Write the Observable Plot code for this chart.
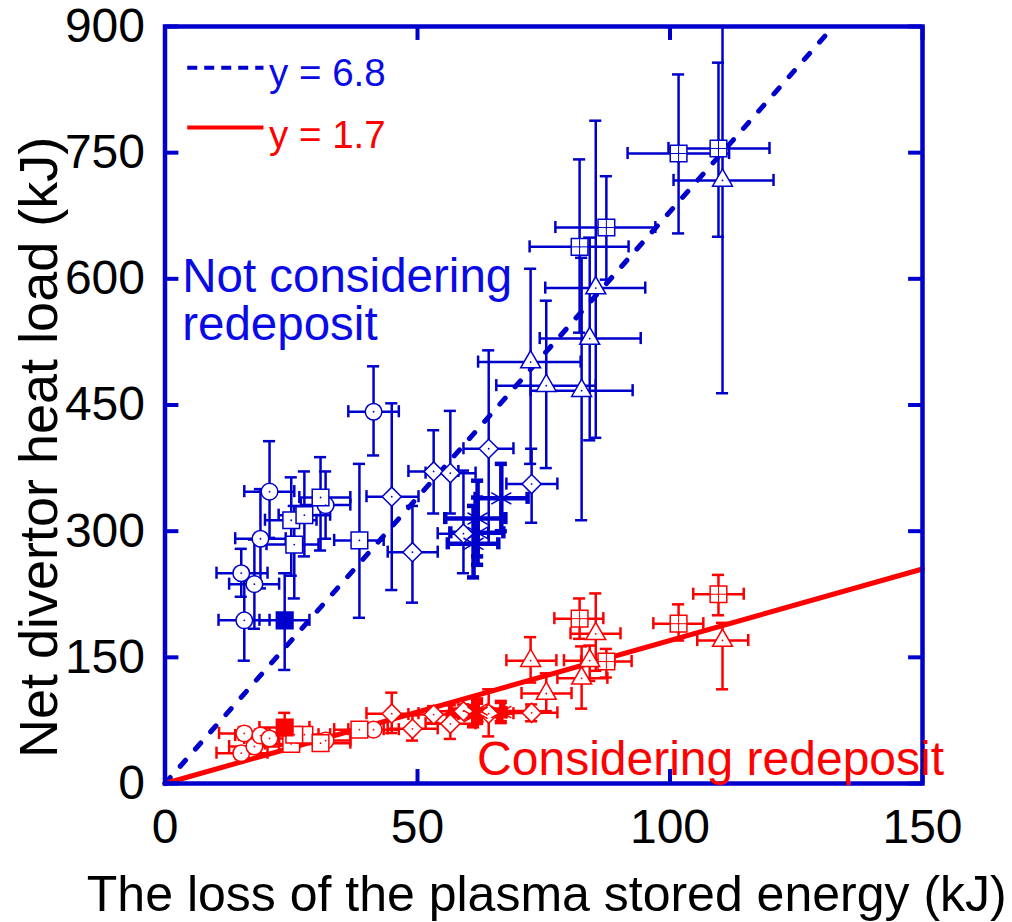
<!DOCTYPE html>
<html>
<head>
<meta charset="utf-8">
<script src="https://cdn.jsdelivr.net/npm/d3@7"></script>
<script src="https://cdn.jsdelivr.net/npm/@observablehq/plot@0.6"></script>
<style>
  html, body { margin: 0; padding: 0; background: #ffffff; }
  #chart svg { display: block; overflow: visible; }
</style>
</head>
<body>
<div id="chart"></div>
<script>
// ---------------- data ----------------
const shapes = [
  "circle","circle","circle","circle","circle","circle","circle",
  "square","square","square","square","square","filled",
  "diamond","diamond","diamond","diamond","diamond","diamond","diamond",
  "asterisk","asterisk","asterisk","asterisk",
  "triangle","triangle","triangle","triangle","triangle","triangle",
  "grid","grid","grid","grid"
];
// loss of the plasma stored energy (kJ) and its error range
const lossX   = [15.7,15.1,17.7,18.9,20.7,31.8,41.3, 25.0,27.6,30.8,25.6,38.5,23.7, 44.9,49.0,53.2,56.5,59.1,64.1,72.6, 66.6,61.9,61.1,61.9, 72.4,75.5,82.5,84.1,85.3,110.4, 82.1,87.4,101.7,109.6];
const lossXLo = [10.6,10.2,12.7,13.9,15.7,26.9,36.3, 19.8,22.5,26.6,20.1,33.5,18.7, 39.9,44.1,48.2,51.6,54.0,59.1,67.6, 61.5,55.5,56.0,56.5, 62.0,65.6,72.4,74.2,75.3,100.7, 72.2,77.3,91.6,99.7];
const lossXHi = [20.7,20.3,22.6,23.9,25.6,36.7,46.3, 30.0,32.7,36.7,30.4,43.3,28.6, 50.2,54.0,58.1,61.5,64.0,69.0,77.7, 71.8,67.4,66.0,67.0, 82.3,85.3,92.6,94.2,95.1,120.5, 91.8,97.1,111.7,119.7];
// net divertor heat load, not considering redeposit (kJ)
const heatNoRedep = [194,250,237,291,347,331,442, 313,319,340,284,289,194, 341,275,371,369,297,398,356, 339,315,285,298, 501,473,467,529,589,717, 638,661,749,755];
const noRedepLo   = [146,222,184,232,292,291,390, 247,270,277,220,197,135, 230,215,321,321,250,285,310, 300,270,245,260, 380,375,313,408,411,464, 536,599,654,650];
const noRedepHi   = [241,279,290,350,407,371,496, 364,371,388,330,380,250, 452,330,420,443,372,515,398, 380,360,330,340, 612,574,625,649,788,900, 742,722,843,857];
// net divertor heat load, considering redeposit (kJ)
const heatRedep = [59.5,36,44,57,53.5,51,64, 47,58,48,58,64,66.6, 83,65,82,71,86,83,84, 85,84,80,88, 146,107,125,146,178,170, 196,145,190,225];
const redepLo   = [52,29,36,50,46,44,57, 40,50,40,51,56,45, 60,51,72,53,78,56,74, 73,72,68,76, 120,86,89,122,134,112, 172,126,170,200];
const redepHi   = [67,43,52,64,61,58,71, 54,66,56,65,72,84, 108,81,92,93,94,112,94, 97,96,92,100, 174,131,163,164,226,191, 220,160,213,248];
const redepXLo  = [10.7,10.2,12.7,13.9,15.7,26.9,36.3, 19.8,22.5,26.6,20.1,33.5,18.7, 39.9,44.1,48.2,51.6,54.0,59.1,67.6, 61.5,56.5,56.0,56.5, 67.6,70.6,77.7,79.0,80.3,105.4, 77.1,82.4,96.7,104.6];
const redepXHi  = [20.7,20.3,22.6,23.9,25.6,36.7,46.3, 30.0,32.7,36.7,30.4,43.3,28.6, 50.2,54.0,58.1,61.5,64.0,69.0,77.7, 71.8,67.4,66.0,67.0, 77.5,80.5,87.6,89.0,90.2,115.5, 86.8,92.4,106.6,114.6];

// fitted lines y = slope * x
const fitSlopes = [6.8, 1.7];
const fitXEnd = [900 / 6.8, 150];
const fitLabels = ["y = 6.8", "y = 1.7"];

const xTicks = [0, 50, 100, 150];
const yTicks = [0, 150, 300, 450, 600, 750, 900];

const seriesLabels = ["Not considering\nredeposit", "Considering redeposit"];
const xTitle = "The loss of the plasma stored energy (kJ)";
const yTitle = "Net divertor heat load (kJ)";

// ---------------- styling ----------------
const BLUE = "#0000cc";
const BLUE_TEXT = "#0a0ae6";
const RED = "#ff0000";
const FONT = "'Liberation Sans', Arial, Helvetica, sans-serif";

const blueRows = lossX.map((x, i) => ({shape: shapes[i], x, y: heatNoRedep[i], ylo: noRedepLo[i], yhi: noRedepHi[i], xlo: lossXLo[i], xhi: lossXHi[i]}));
const redRows  = lossX.map((x, i) => ({shape: shapes[i], x, y: heatRedep[i], ylo: redepLo[i], yhi: redepHi[i], xlo: redepXLo[i], xhi: redepXHi[i]}));

const capX = 1.2;   // half cap width in x units
const capY = 7.2;   // half cap height in y units

function errorMarks(rows, color, sw) {
  return [
    Plot.ruleX(rows, {x: "x", y1: "ylo", y2: "yhi", stroke: color, strokeWidth: sw}),
    Plot.ruleY(rows, {y: "y", x1: "xlo", x2: "xhi", stroke: color, strokeWidth: sw}),
    Plot.ruleY(rows, {y: "ylo", x1: d => d.x - capX, x2: d => d.x + capX, stroke: color, strokeWidth: sw}),
    Plot.ruleY(rows, {y: "yhi", x1: d => d.x - capX, x2: d => d.x + capX, stroke: color, strokeWidth: sw}),
    Plot.ruleX(rows, {x: "xlo", y1: d => d.y - capY, y2: d => d.y + capY, stroke: color, strokeWidth: sw}),
    Plot.ruleX(rows, {x: "xhi", y1: d => d.y - capY, y2: d => d.y + capY, stroke: color, strokeWidth: sw})
  ];
}

function seriesMarks(rows, color) {
  const is = s => d => d.shape === s;
  const normal = rows.filter(d => d.shape !== "asterisk");
  const stars = rows.filter(is("asterisk"));
  const open = rows.filter(d => d.shape !== "asterisk" && d.shape !== "filled");
  const common = {x: "x", y: "y", stroke: color, strokeWidth: 1.5};
  return [
    ...errorMarks(normal, color, 2.5),
    ...errorMarks(stars, color, 4.5),
    Plot.dot(rows.filter(is("circle")), {...common, symbol: "circle", r: 8.3, fill: "white"}),
    Plot.dot(rows.filter(d => d.shape === "square" || d.shape === "grid"), {...common, symbol: "square", r: 9.4, fill: "white"}),
    Plot.dot(rows.filter(is("grid")), {...common, symbol: "plus", r: 5.4, strokeWidth: 1}),
    Plot.dot(rows.filter(is("filled")), {...common, symbol: "square", r: 9.4, fill: color}),
    Plot.dot(rows.filter(is("diamond")), {...common, symbol: "diamond2", r: 8.6, fill: "white"}),
    Plot.dot(rows.filter(is("triangle")), {...common, symbol: "triangle", r: 7.4, fill: "white"}),
    Plot.dot(stars, {...common, symbol: "asterisk", r: 11}),
    Plot.dot(open, {x: "x", y: "y", r: 0.9, fill: color})
  ];
}

const fitRows = fitSlopes.map((s, k) => [0, fitXEnd[k]].map(x => ({k, x, y: s * x})));

const plot = Plot.plot({
  width: 1012,
  height: 922,
  marginLeft: 164.5,
  marginRight: 90,
  marginTop: 26,
  marginBottom: 139,
  style: {fontFamily: FONT, background: "white", color: "black"},
  x: {domain: [0, 150], axis: null},
  y: {domain: [0, 900], axis: null},
  marks: [
    // fit lines
    Plot.line(fitRows[0], {x: "x", y: "y", stroke: BLUE, strokeWidth: 5, strokeDasharray: "8,15", strokeLinecap: "round"}),
    Plot.line(fitRows[1], {x: "x", y: "y", stroke: RED, strokeWidth: 5}),
    // data
    ...seriesMarks(blueRows, BLUE),
    ...seriesMarks(redRows, RED),
    // frame and inward ticks
    Plot.frame({stroke: BLUE, strokeWidth: 4.5}),
    Plot.ruleX(xTicks, {x: d => d, y1: 0, y2: 16.6, stroke: BLUE, strokeWidth: 4}),
    Plot.ruleX(xTicks, {x: d => d, y1: 900 - 16.6, y2: 900, stroke: BLUE, strokeWidth: 4}),
    Plot.ruleY(yTicks, {y: d => d, x1: 0, x2: 2.75, stroke: BLUE, strokeWidth: 4}),
    Plot.ruleY(yTicks, {y: d => d, x1: 150 - 2.75, x2: 150, stroke: BLUE, strokeWidth: 4}),
    // tick labels
    Plot.text(xTicks, {x: d => d, y: 0, text: d => String(d), dy: 59, lineAnchor: "bottom", fontSize: 48, fill: "black"}),
    Plot.text(yTicks, {x: 0, y: d => d, text: d => String(d), dx: -20, textAnchor: "end", lineAnchor: "middle", fontSize: 48, fill: "black"}),
    // axis titles
    Plot.text([xTitle], {frameAnchor: "bottom", text: d => d, dx: 3, dy: 127, lineAnchor: "bottom", fontSize: 50, fill: "black"}),
    Plot.text([yTitle], {x: 0, y: 399.5, text: d => d, dx: -108, rotate: -90, lineAnchor: "bottom", fontSize: 54, fill: "black"}),
    // legend
    Plot.ruleY([851], {y: d => d, x1: 4.5, x2: 19.6, stroke: BLUE, strokeWidth: 4, strokeDasharray: "10,7"}),
    Plot.ruleY([780], {y: d => d, x1: 4.5, x2: 19.6, stroke: RED, strokeWidth: 4}),
    Plot.text([fitLabels[0]], {x: 20.6, y: 829, text: d => d, textAnchor: "start", lineAnchor: "bottom", fontSize: 38.5, fill: BLUE_TEXT}),
    Plot.text([fitLabels[1]], {x: 20.6, y: 756, text: d => d, textAnchor: "start", lineAnchor: "bottom", fontSize: 38.5, fill: RED}),
    // series annotations
    Plot.text([seriesLabels[0]], {x: 3.4, y: 527, text: d => d, textAnchor: "start", lineAnchor: "bottom", lineHeight: 1.02, fontSize: 47.5, fill: BLUE_TEXT}),
    Plot.text([seriesLabels[1]], {x: 61.8, y: 10.7, text: d => d, textAnchor: "start", lineAnchor: "bottom", fontSize: 48, fill: RED})
  ]
});

document.getElementById("chart").appendChild(plot);
</script>
</body>
</html>
